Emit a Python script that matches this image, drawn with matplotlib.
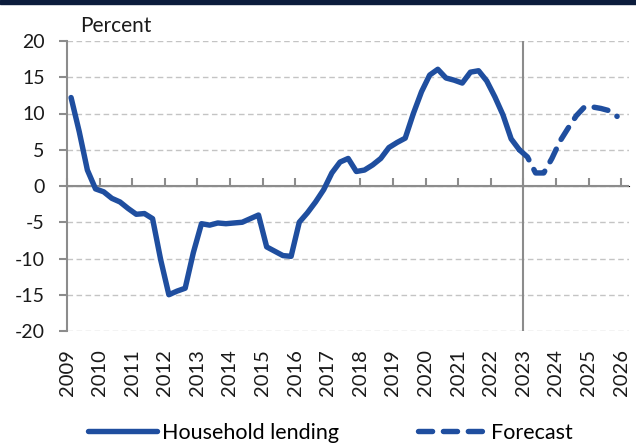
import numpy as np
import pandas as pd
import matplotlib.pyplot as plt
from matplotlib.patches import Rectangle

# === DATA (quarterly, percent) ===
hist_start = "2009Q1"
household_lending = [12.2, 7.5, 2.2, -0.4, -0.8, -1.7, -2.2, -3.1,
                     -3.9, -3.8, -4.5, -10.2, -15.0, -14.5, -14.1, -9.2,
                     -5.2, -5.4, -5.1, -5.2, -5.1, -5.0, -4.5, -4.0,
                     -8.4, -9.0, -9.6, -9.7, -5.0, -3.7, -2.2, -0.5,
                     1.8, 3.3, 3.8, 2.0, 2.2, 2.9, 3.8, 5.3,
                     6.0, 6.6, 10.0, 13.0, 15.3, 16.1, 14.9, 14.6,
                     14.2, 15.7, 15.9, 14.5, 12.3, 9.8, 6.5, 5.0]
fcst_start = "2022Q4"
forecast = [5.0, 4.0, 1.8, 1.8, 3.8, 6.2, 8.0, 9.7, 10.9, 10.9, 10.7, 10.4, 9.6]

years = list(range(2009, 2027))
forecast_line_year = 2023
y_ticks = [-20, -15, -10, -5, 0, 5, 10, 15, 20]


def quarter_pos(start, n):
    q = pd.period_range(start, periods=n, freq="Q")
    return q.year + (q.quarter - 0.5) / 4


x_hist = quarter_pos(hist_start, len(household_lending))
x_fcst = quarter_pos(fcst_start, len(forecast))

# === STYLE ===
plt.rcParams['font.family'] = ['Lato', 'DejaVu Sans']
blue = '#1f4e9f'
grey = '#8c8c8c'
fs = 14

fig = plt.figure(figsize=(6.36, 4.47), dpi=100)
ax = fig.add_axes([67 / 636, 1 - 331 / 447, 562 / 636, 290 / 447])

# top navy rule
fig.patches.append(Rectangle((0, 1 - 4 / 447), 1, 4 / 447, transform=fig.transFigure,
                             color='#0c1c3c', zorder=10))

ax.plot(x_hist, household_lending, color=blue, lw=3.9, solid_capstyle='round',
        solid_joinstyle='round', label='Household lending', zorder=4)
ax.plot(x_fcst, forecast, color=blue, lw=3.9, dashes=(2.6, 2.0), dash_capstyle='round',
        dash_joinstyle='round', label='Forecast', zorder=4)

ax.axvline(forecast_line_year, color=grey, lw=1.5, zorder=3)
ax.axhline(0, color=grey, lw=1.5, zorder=3)

ax.set_xlim(2009, 2026.24)
ax.set_ylim(-20, 20)
ax.set_yticks(y_ticks)
ax.set_yticklabels([str(v) for v in y_ticks])
ax.yaxis.grid(True, color='#c4c4c4', lw=1.0, dashes=(4, 2.5))
ax.set_axisbelow(True)

for s in ['top', 'right', 'bottom']:
    ax.spines[s].set_visible(False)
ax.spines['left'].set_color(grey)
ax.spines['left'].set_linewidth(1.5)
ax.tick_params(axis='y', colors=grey, length=6, width=1.5, pad=10, labelsize=fs,
               labelcolor='#1a1a1a')

ax.set_xticks(years)
ax.set_xticklabels([str(y) for y in years], rotation=90)
ax.tick_params(axis='x', length=0, pad=13, labelsize=14.5, labelcolor='#1a1a1a')

# year ticks hanging from the zero line
sec = ax.secondary_xaxis(0.5)
sec.set_xticks(years)
sec.set_xticklabels([])
sec.spines['bottom'].set_visible(False)
sec.tick_params(axis='x', direction='out', length=6, width=1.5, colors=grey)

ax.text(80 / 636, 1 - 26 / 447, 'Percent', transform=fig.transFigure, fontsize=15,
        color='#1a1a1a', va='center', ha='left')

fig.legend(loc='center', bbox_to_anchor=(0.52, 1 - 433 / 447), ncol=2, frameon=False,
           fontsize=15.5, handlelength=3.2, handletextpad=0.2, columnspacing=3.7)

fig.savefig('out.png', dpi=100)
